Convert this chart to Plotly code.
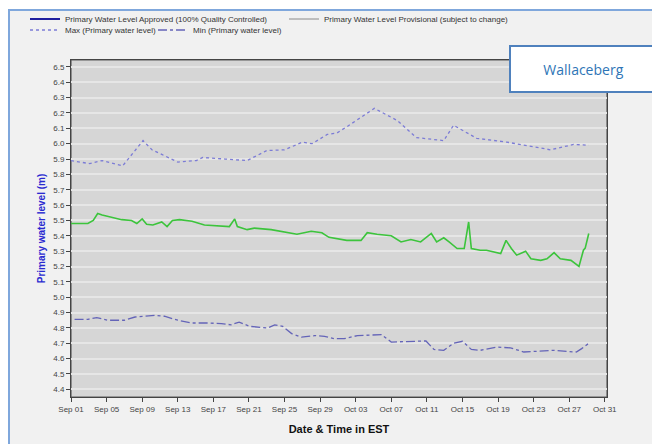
import pandas as pd
import plotly.graph_objects as go

START = "2013-09-01"

# Days after Sep 01 and water levels (m)
green_day = [0, 1.9, 2.5, 3.0, 3.5, 4.6, 5.7, 6.8, 7.4, 8.0, 8.5, 9.2, 10.2, 10.8, 11.4,
             12.2, 13.6, 15.0, 16.9, 17.8, 18.4, 18.7, 19.8, 20.6, 22.5, 24.0, 25.4, 27.0,
             28.2, 29.0, 29.9, 31.0, 32.6, 33.3, 34.4, 36.0, 37.1, 38.2, 39.3, 40.5, 41.1,
             41.9, 42.5, 43.4, 44.2, 44.7, 45.0, 46.0, 46.7, 48.3, 48.9, 49.5, 50.1, 51.1,
             51.7, 52.8, 53.5, 54.3, 55.0, 56.2, 57.1, 57.6, 57.8, 58.2]
green_val = [5.48, 5.48, 5.50, 5.545, 5.535, 5.52, 5.505, 5.50, 5.48, 5.51, 5.475, 5.47, 5.49,
             5.46, 5.50, 5.505, 5.495, 5.47, 5.46, 5.46, 5.51, 5.46, 5.44, 5.45, 5.44, 5.425,
             5.41, 5.43, 5.42, 5.39, 5.38, 5.37, 5.37, 5.42, 5.41, 5.40, 5.36, 5.376, 5.36,
             5.415, 5.36, 5.387, 5.36, 5.317, 5.317, 5.49, 5.317, 5.306, 5.306, 5.285, 5.37,
             5.317, 5.274, 5.30, 5.25, 5.24, 5.25, 5.29, 5.25, 5.24, 5.20, 5.306, 5.32, 5.415]

max_day = [0, 2.1, 3.5, 5.8, 8.1, 9.1, 10.2, 12.0, 14.1, 14.8, 17.3, 19.8, 22.0, 24.0, 26.0,
           27.1, 28.8, 29.9, 31.0, 34.1, 36.7, 38.8, 41.9, 43.0, 45.6, 49.0, 52.0, 53.9, 56.5, 58.2]
max_val = [5.89, 5.87, 5.89, 5.855, 6.02, 5.96, 5.93, 5.88, 5.89, 5.91, 5.90, 5.89, 5.955, 5.96,
           6.01, 6.0, 6.06, 6.07, 6.11, 6.23, 6.15, 6.04, 6.02, 6.12, 6.035, 6.01, 5.98, 5.96,
           5.995, 5.99]

min_day = [0.4, 1.9, 2.9, 4.1, 6.0, 7.2, 9.4, 10.5, 12.0, 13.6, 15.4, 16.9, 18.0, 18.9, 20.1,
           21.4, 22.1, 22.9, 23.8, 24.8, 25.9, 27.4, 28.5, 29.6, 30.7, 32.2, 34.9, 36.0, 38.2,
           39.9, 40.8, 41.9, 43.0, 44.0, 45.0, 46.0, 47.9, 49.4, 50.9, 52.8, 54.3, 55.7, 56.8,
           57.4, 58.2]
min_val = [4.855, 4.856, 4.867, 4.85, 4.85, 4.871, 4.882, 4.876, 4.85, 4.832, 4.832, 4.828,
           4.82, 4.838, 4.81, 4.806, 4.80, 4.82, 4.81, 4.763, 4.74, 4.75, 4.745, 4.73, 4.73,
           4.75, 4.756, 4.708, 4.713, 4.715, 4.66, 4.654, 4.70, 4.713, 4.66, 4.654, 4.675,
           4.67, 4.643, 4.647, 4.654, 4.647, 4.643, 4.665, 4.70]

tick_labels = ["Sep 01", "Sep 05", "Sep 09", "Sep 13", "Sep 17", "Sep 21", "Sep 25", "Sep 29",
               "Oct 03", "Oct 07", "Oct 11", "Oct 15", "Oct 19", "Oct 23", "Oct 27", "Oct 31"]
tick_days = [0, 4, 8, 12, 16, 20, 24, 28, 32, 36, 40, 44, 48, 52, 56, 60]

y_ticks = [4.4, 4.5, 4.6, 4.7, 4.8, 4.9, 5.0, 5.1, 5.2, 5.3, 5.4, 5.5, 5.6, 5.7, 5.8, 5.9,
           6.0, 6.1, 6.2, 6.3, 6.4, 6.5]

t0 = pd.Timestamp(START)
def to_dates(days):
    return [(t0 + pd.Timedelta(days=d)).strftime("%Y-%m-%d %H:%M:%S") for d in days]

fig = go.Figure()

# legend-only entries (row 1)
fig.add_trace(go.Scatter(x=[None], y=[None], mode="lines",
                         name="Primary Water Level Approved (100% Quality Controlled)",
                         line=dict(color="#1f1f9e", width=2), legend="legend"))
fig.add_trace(go.Scatter(x=[None], y=[None], mode="lines",
                         name="Primary Water Level Provisional (subject to change)",
                         line=dict(color="#8a8a8a", width=1), legend="legend2"))

# data
fig.add_trace(go.Scatter(x=to_dates(green_day), y=green_val, mode="lines",
                         line=dict(color="#3cc43c", width=1.6), showlegend=False,
                         name="Primary water level"))
fig.add_trace(go.Scatter(x=to_dates(max_day), y=max_val, mode="lines",
                         name="Max (Primary water level)",
                         line=dict(color="#7c7cd6", width=1.3, dash="dot"), legend="legend3"))
fig.add_trace(go.Scatter(x=to_dates(min_day), y=min_val, mode="lines",
                         name="Min (Primary water level)",
                         line=dict(color="#6464b8", width=1.3, dash="dashdot"), legend="legend4"))

# page offset of the figure inside the browser (body margin)
OFF = 8
W, H = 660, 444
# plot area geometry in screen pixels
L, R, T, B = 71, 607, 60, 397
pw, ph = R - L, B - T
def px(x):
    return (x - L) / pw
def py(y):
    return (B - y) / ph

shapes = [
    # outer frame
    dict(type="rect", xref="paper", yref="paper", x0=px(9), x1=px(680), y0=py(470), y1=py(10),
         fillcolor="#f1f1f1", line=dict(color="#7fa7dc", width=2), layer="below"),
    # plot background
    dict(type="rect", xref="paper", yref="paper", x0=0, x1=1, y0=0, y1=1,
         fillcolor="#d6d6d6", line=dict(color="#5a5a5a", width=1.2), layer="below"),
]

def leg(text_x_screen, row_y_screen):
    # place a one-entry legend so that its text starts at text_x_screen and row centre at row_y_screen
    return dict(orientation="h", xref="container", yref="container",
                x=(text_x_screen - OFF - 41) / W, y=1 - (row_y_screen - OFF) / H,
                xanchor="left", yanchor="middle", itemwidth=30,
                bgcolor="rgba(0,0,0,0)", font=dict(size=8, color="#333333"))

fig.update_layout(
    width=W, height=H,
    margin=dict(l=L - OFF, r=W - (R - OFF), t=T - OFF, b=H - (B - OFF)),
    paper_bgcolor="white",
    plot_bgcolor="#d6d6d6",
    font=dict(family="Liberation Sans, Arial", size=8, color="#333333"),
    shapes=shapes,
    showlegend=True,
    legend=leg(66, 19),
    legend2=leg(325, 19),
    legend3=leg(66, 30),
    legend4=leg(194, 30),
    xaxis=dict(
        type="date",
        range=[to_dates([0])[0], to_dates([60.25])[0]],
        tickvals=to_dates(tick_days), ticktext=tick_labels,
        ticks="outside", ticklen=4, tickcolor="#444444",
        tickfont=dict(size=8, color="#444444"),
        showgrid=False, zeroline=False,
        showline=True, linecolor="#444444", linewidth=1, mirror=True,
        title=dict(text="<b>Date & Time in EST</b>", font=dict(size=11, color="#111111"),
                   standoff=12),
    ),
    yaxis=dict(
        range=[4.35, 6.545],
        tickvals=y_ticks, ticktext=[f"{v:.1f}" for v in y_ticks],
        ticks="outside", ticklen=4, tickcolor="#444444",
        tickfont=dict(size=8, color="#444444"),
        showgrid=True, gridcolor="#e6e6e6", gridwidth=1.5,
        zeroline=False,
        showline=True, linecolor="#444444", linewidth=1, mirror=True,
        title=dict(text="<b>Primary water level (m)</b>", font=dict(size=10, color="#2a2ad0"),
                   standoff=5),
    ),
    annotations=[
        dict(xref="paper", yref="paper", x=px(583), y=py(68.5), xanchor="center",
             yanchor="middle", text="Wallaceberg", showarrow=False,
             font=dict(family="Open Sans, Liberation Sans", size=14, color="#2e75b6"),
             bgcolor="white", bordercolor="#4f81bd", borderwidth=2,
             width=143, height=42, align="center"),
    ],
)

fig.write_html("out.html")
